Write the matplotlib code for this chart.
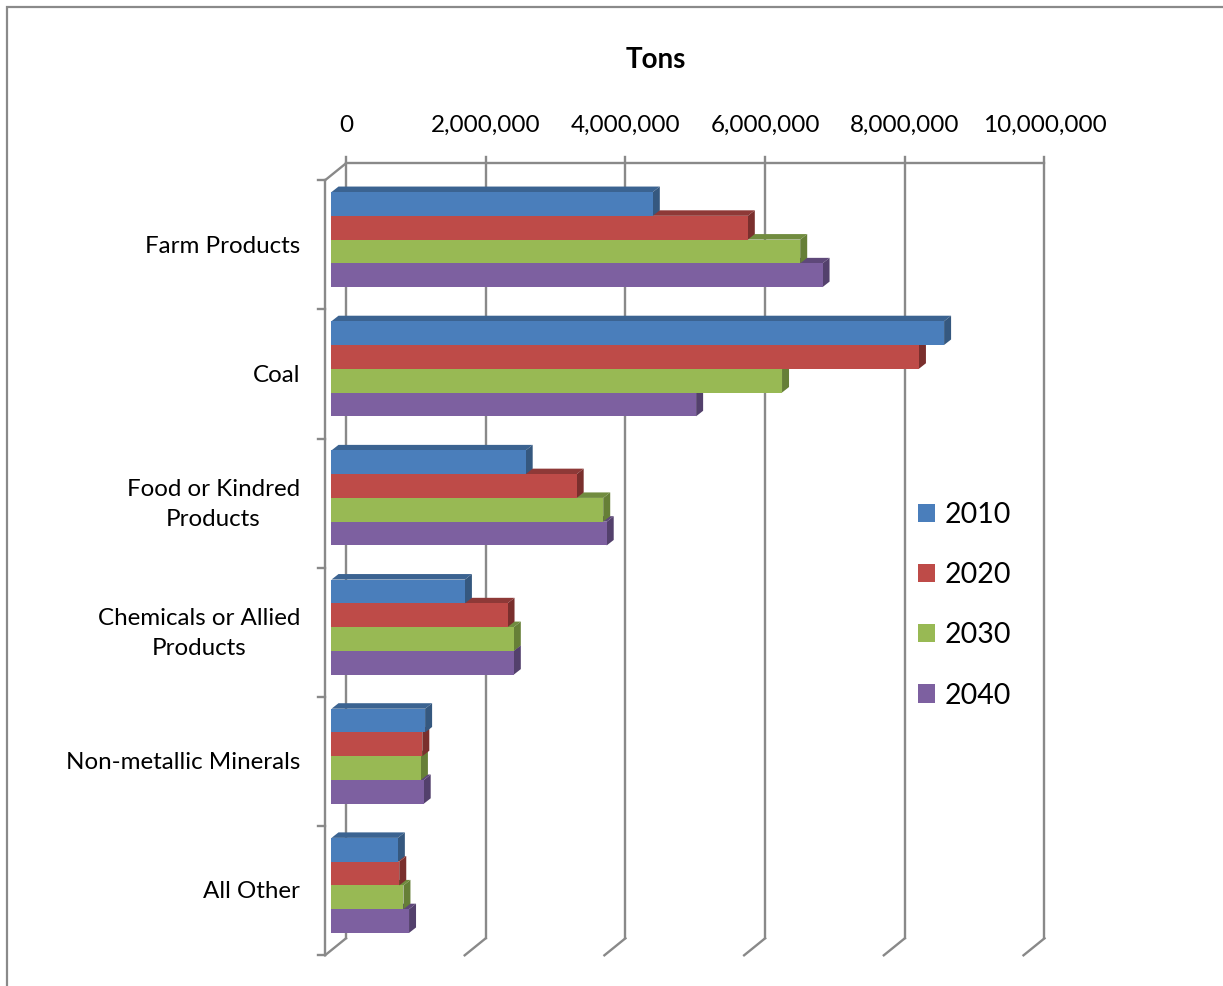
import numpy as np
import matplotlib.pyplot as plt
from matplotlib.patches import Polygon, Rectangle
from matplotlib.lines import Line2D
from matplotlib import transforms

plt.rcParams['font.family'] = ['Lato', 'DejaVu Sans']

# Freight tonnage by commodity and forecast year
categories = ['Farm Products', 'Coal', 'Food or Kindred\nProducts',
              'Chemicals or Allied\nProducts', 'Non-metallic Minerals', 'All Other']
years = ['2010', '2020', '2030', '2040']
tons_2010 = [4.60e6, 8.77e6, 2.78e6, 1.91e6, 1.34e6, 0.95e6]
tons_2020 = [5.96e6, 8.41e6, 3.51e6, 2.52e6, 1.30e6, 0.97e6]
tons_2030 = [6.71e6, 6.45e6, 3.89e6, 2.61e6, 1.28e6, 1.03e6]
tons_2040 = [7.03e6, 5.22e6, 3.94e6, 2.61e6, 1.32e6, 1.11e6]
value_ticks = [0, 2e6, 4e6, 6e6, 8e6, 10e6]

series = [tons_2010, tons_2020, tons_2030, tons_2040]
front_cols = ['#4A7EBB', '#BE4B48', '#98B954', '#7D60A0']
top_cols = ['#3B6391', '#8E3937', '#718C3F', '#5E4879']
side_cols = ['#35587F', '#7A2F2D', '#667F37', '#53406C']
grid_col = '#898989'

W, H = 1223, 986
fig = plt.figure(figsize=(W / 100, H / 100), dpi=100)

# chart frame
fig.patches.append(Rectangle((7 / W, -0.1), 1.2, 1.1 - 7 / H, transform=fig.transFigure,
                             fill=False, edgecolor='#8a8a8a', lw=1.6))

# axes = front plane of the bars
left_px, top_px, w_px, h_px = 331.5, 175.0, 698.5, 775.0
ax = fig.add_axes([left_px / W, 1 - (top_px + h_px) / H, w_px / W, h_px / H])
ax.set_xlim(0, 10e6)
ax.set_ylim(len(categories) - 0.5, -0.5)
ax.axis('off')

px_x = 10e6 / w_px          # data units per pixel
px_y = len(categories) / h_px

# depth vectors in pixels (x right, y up): bar depth, back wall, front wall
bd = (7.0, 5.5)
back = (14.5, 11.7)
front = (-6.5, -5.3)

def off(x, y, d):
    # y axis is inverted, so moving up means a smaller data value
    return x + d[0] * px_x, y - d[1] * px_y

lw = 1.7
ytop, ybot = -0.5, len(categories) - 0.5

# back wall gridlines + value axis on top
for v in value_ticks:
    x0, y0 = off(v, ytop, back)
    x1, y1 = off(v, ybot, back)
    ax.add_line(Line2D([x0, x1], [y0 - 6 * px_y, y1], color=grid_col, lw=lw, zorder=1, clip_on=False))
    xf, yf = off(v, ybot, front)
    ax.add_line(Line2D([xf, x1], [yf, y1], color=grid_col, lw=lw, zorder=1, clip_on=False))
    ax.text(x0, y0 - 38 * px_y, f'{v:,.0f}', ha='center', va='center', fontsize=17.5, clip_on=False)
xa, ya = off(value_ticks[0], ytop, back)
xb, _ = off(value_ticks[-1], ytop, back)
ax.add_line(Line2D([xa, xb], [ya, ya], color=grid_col, lw=lw, zorder=1, clip_on=False))

# side wall front edge with category ticks
xf0, yf0 = off(0, ytop, front)
_, yf1 = off(0, ybot, front)
ax.add_line(Line2D([xf0, xf0], [yf0, yf1], color=grid_col, lw=lw, zorder=1, clip_on=False))
ax.add_line(Line2D([xf0, xa], [yf0, ya], color=grid_col, lw=lw, zorder=1, clip_on=False))
for b in np.arange(len(categories) + 1) - 0.5:
    _, yb = off(0, b, front)
    ax.add_line(Line2D([xf0 - 7 * px_x, xf0], [yb, yb], color=grid_col, lw=lw, zorder=1, clip_on=False))

# bars
bar_h = 0.184
pos = np.arange(len(categories))
for i, (vals, yr) in enumerate(zip(series, years)):
    yc = pos + (i - 1.5) * bar_h
    z = 2 + (3 - i) * 3
    ax.barh(yc, vals, height=bar_h, color=front_cols[i], label=yr, zorder=z + 2, lw=0)
    for y, v in zip(yc, vals):
        t, b = y - bar_h / 2, y + bar_h / 2
        tx, ty = off(0, t, bd)
        vx, _ = off(v, t, bd)
        ax.add_patch(Polygon([(0, t), (v, t), (vx, ty), (tx, ty)], closed=True,
                             facecolor=top_cols[i], lw=0, zorder=z, clip_on=False))
        _, by = off(v, b, bd)
        ax.add_patch(Polygon([(v, t), (v, b), (vx, by), (vx, ty)], closed=True,
                             facecolor=side_cols[i], lw=0, zorder=z + 1, clip_on=False))

# category labels on the front wall
lab_tr = transforms.offset_copy(ax.transData, fig=fig, x=0, y=-6.5, units='dots')
for k, name in enumerate(categories):
    ax.text((300 - left_px) * px_x, k, name, transform=lab_tr, ha='right', va='center',
            multialignment='center', fontsize=17.4, linespacing=1.55, clip_on=False)

fig.text(656 / W, 1 - 60 / H, 'Tons', ha='center', va='center', fontsize=20, fontweight='bold')

ax.legend(loc='upper left', bbox_to_anchor=(918 / W, 1 - 502 / H), bbox_transform=fig.transFigure,
          frameon=False, fontsize=20.5, handlelength=0.6, handleheight=0.6, handletextpad=0.35,
          labelspacing=1.2, borderpad=0, borderaxespad=0)

fig.savefig('out.png', dpi=100)
